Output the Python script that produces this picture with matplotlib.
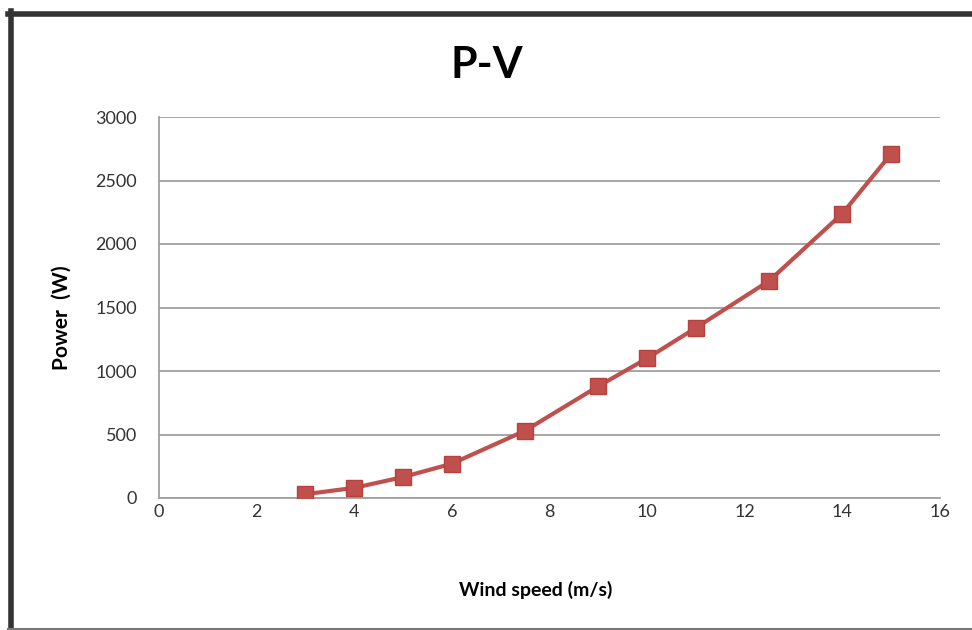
import matplotlib
matplotlib.use("Agg")
from matplotlib import pyplot as plt
from matplotlib.lines import Line2D

# P-V curve of the wind turbine
wind_speed = [3, 4, 5, 6, 7.5, 9, 10, 11, 12.5, 14, 15]
power = [30, 80, 165, 270, 530, 880, 1100, 1340, 1710, 2240, 2710]

x_ticks = [0, 2, 4, 6, 8, 10, 12, 14, 16]
y_ticks = [0, 500, 1000, 1500, 2000, 2500, 3000]

plt.rcParams["font.family"] = ["Lato", "DejaVu Sans"]

fig = plt.figure(figsize=(9.72, 6.3), dpi=100)
ax = fig.add_axes([159 / 972, 1 - 498 / 630, 781 / 972, 381 / 630])

ax.plot(wind_speed, power, color="#c0504d", linewidth=3, marker="s",
        markersize=12, markerfacecolor="#c0504d", markeredgecolor="#b8403d",
        zorder=3)

ax.set_xlim(0, 16)
ax.set_ylim(0, 3000)
ax.set_xticks(x_ticks)
ax.set_yticks(y_ticks)
ax.tick_params(axis="both", length=0, labelsize=13, labelcolor="#333333")
ax.tick_params(axis="y", pad=16)
ax.tick_params(axis="x", pad=4)

ax.grid(axis="y", color="#a0a0a0", linewidth=1.3)
ax.set_axisbelow(True)
for side in ["top", "right"]:
    ax.spines[side].set_visible(False)
for side in ["left", "bottom"]:
    ax.spines[side].set_color("#a0a0a0")
    ax.spines[side].set_linewidth(1.3)

ax.set_xlabel("Wind speed (m/s)", fontsize=14, fontweight="bold", va="center")
ax.xaxis.set_label_coords((536 - 159) / 781, (498 - 590) / 381)
ax.set_ylabel("Power  (W)", fontsize=15, fontweight="bold", va="center")
ax.yaxis.set_label_coords((62 - 159) / 781, (498 - 318) / 381)
fig.text(487 / 972, 1 - 65 / 630, "P-V", ha="center", va="center",
         fontsize=31, fontweight="bold")

# outer frame of the chart
fig.add_artist(Line2D([10.5 / 972, 10.5 / 972], [0, 1 - 11 / 630],
                      color="#333333", linewidth=4, transform=fig.transFigure))
fig.add_artist(Line2D([8 / 972, 1], [1 - 13.5 / 630, 1 - 13.5 / 630],
                      color="#333333", linewidth=4, transform=fig.transFigure))
fig.add_artist(Line2D([8 / 972, 1], [1.5 / 630, 1.5 / 630],
                      color="#777777", linewidth=1.5, transform=fig.transFigure))

plt.savefig("out.png", dpi=100)
plt.close()
